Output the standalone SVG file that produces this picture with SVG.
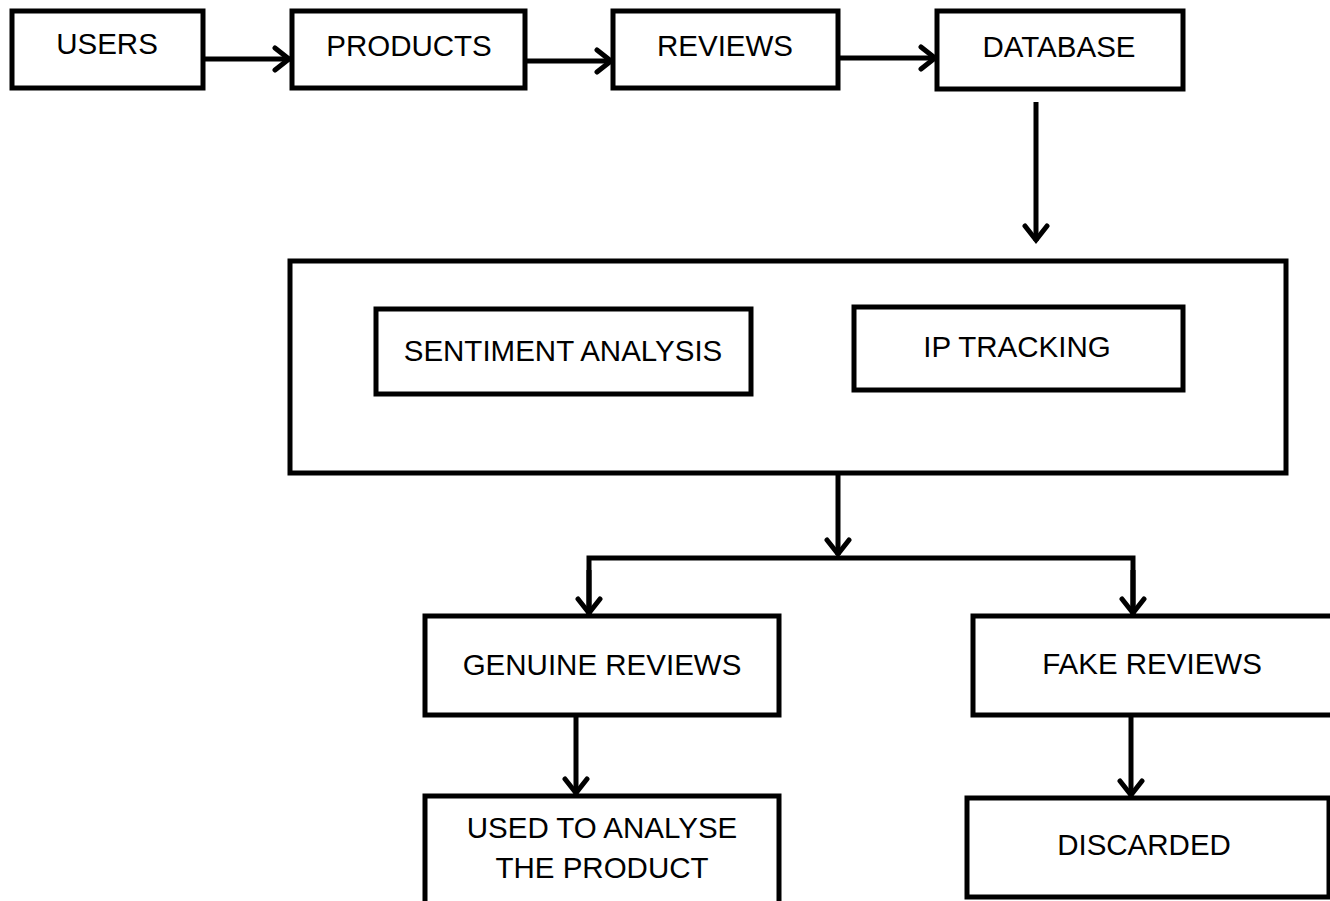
<svg xmlns="http://www.w3.org/2000/svg" width="1330" height="901" viewBox="0 0 1330 901">
<style>
.box{fill:#fff;stroke:#000;stroke-width:5}
.t{font-family:"Liberation Sans",Arial,sans-serif;font-size:29.5px;fill:#000;text-anchor:middle}
.c{fill:none;stroke:#000;stroke-width:5}
</style>
<defs>
<marker id="ah" markerUnits="userSpaceOnUse" markerWidth="28" markerHeight="28" viewBox="0 0 28 28" refX="21" refY="14" orient="auto">
<path d="M6,3 L20,14 L6,25" fill="none" stroke="#000" stroke-width="5" stroke-linecap="round" stroke-linejoin="miter"/>
</marker>
</defs>
<rect width="1330" height="901" fill="#fff"/>
<g id="connectors">
<line class="c" x1="203" y1="59" x2="290" y2="59" marker-end="url(#ah)"/>
<line class="c" x1="525" y1="61" x2="612" y2="61" marker-end="url(#ah)"/>
<line class="c" x1="838" y1="58" x2="936" y2="58" marker-end="url(#ah)"/>
<line class="c" x1="1036" y1="102" x2="1036" y2="241" marker-end="url(#ah)"/>
<line class="c" x1="838" y1="473" x2="838" y2="555" marker-end="url(#ah)"/>
<polyline class="c" points="589,614 589,558 1133,558 1133,614"/>
<line class="c" x1="589" y1="570" x2="589" y2="614" marker-end="url(#ah)"/>
<line class="c" x1="1133" y1="570" x2="1133" y2="614" marker-end="url(#ah)"/>
<line class="c" x1="576" y1="716" x2="576" y2="794" marker-end="url(#ah)"/>
<line class="c" x1="1131" y1="716" x2="1131" y2="796" marker-end="url(#ah)"/>
</g>
<g id="users"><rect class="box" x="12" y="11" width="191" height="77"/><text class="t" x="107" y="54">USERS</text></g>
<g id="products"><rect class="box" x="292" y="11" width="233" height="77"/><text class="t" x="409" y="56">PRODUCTS</text></g>
<g id="reviews"><rect class="box" x="613" y="11" width="225" height="77"/><text class="t" x="725" y="56">REVIEWS</text></g>
<g id="database"><rect class="box" x="937" y="11" width="246" height="78"/><text class="t" x="1059" y="57">DATABASE</text></g>
<g id="analysis"><rect class="box" x="290" y="261" width="996" height="212"/></g>
<g id="sentiment"><rect class="box" x="376" y="309" width="375" height="85"/><text class="t" x="563" y="361">SENTIMENT ANALYSIS</text></g>
<g id="iptracking"><rect class="box" x="854" y="307" width="329" height="83"/><text class="t" x="1017" y="357">IP TRACKING</text></g>
<g id="genuine"><rect class="box" x="425" y="616" width="354" height="99"/><text class="t" x="602" y="675">GENUINE REVIEWS</text></g>
<g id="fake"><rect class="box" x="973" y="616" width="360" height="99"/><text class="t" x="1152" y="674">FAKE REVIEWS</text></g>
<g id="used"><rect class="box" x="425" y="796" width="354" height="120"/><text class="t" x="602" y="838">USED TO ANALYSE</text><text class="t" x="602" y="878">THE PRODUCT</text></g>
<g id="discarded"><rect class="box" x="967" y="798" width="362" height="99"/><text class="t" x="1144" y="855">DISCARDED</text></g>
</svg>
